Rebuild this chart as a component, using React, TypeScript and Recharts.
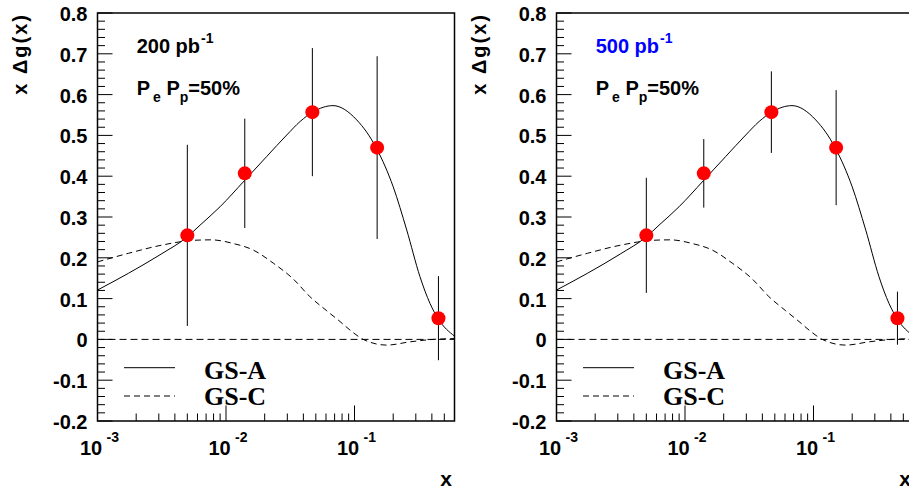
import React from 'react';
import { ComposedChart, Line, Scatter, ErrorBar, XAxis, YAxis, ReferenceLine, ReferenceArea } from 'recharts';

// GS-A (solid) and GS-C (dashed) gluon curves
const gsAx = [0.001, 0.00174, 0.00316, 0.00494, 0.00628, 0.00898, 0.0139, 0.0207, 0.0297, 0.0377, 0.0478, 0.068, 0.104, 0.149, 0.2, 0.255, 0.323, 0.387, 0.449, 0.6];
const gsAy = [0.121, 0.162, 0.21, 0.25, 0.28, 0.325, 0.389, 0.448, 0.501, 0.534, 0.558, 0.573, 0.538, 0.467, 0.374, 0.268, 0.154, 0.088, 0.05, 0.008];
const gsCx = [0.001, 0.00174, 0.00316, 0.0057, 0.0077, 0.0114, 0.0163, 0.0233, 0.0334, 0.0449, 0.0609, 0.077, 0.093, 0.117, 0.178, 0.27, 0.41, 0.6];
const gsCy = [0.19, 0.211, 0.231, 0.243, 0.244, 0.235, 0.219, 0.187, 0.148, 0.105, 0.07, 0.044, 0.022, 0.0, -0.014, -0.006, 0.0, 0.002];

// projected measurement points
const pointX = [0.005, 0.014, 0.047, 0.15, 0.45];
const pointY = [0.255, 0.407, 0.557, 0.47, 0.052];
const err200 = [0.222, 0.134, 0.157, 0.224, 0.103];
const err500 = [0.141, 0.084, 0.1, 0.141, 0.065];

// axis ticks
const xMajor = [0.001, 0.01, 0.1];
const xExp = ['-3', '-2', '-1'];
const xMinor = [0.002, 0.003, 0.004, 0.005, 0.006, 0.007, 0.008, 0.009, 0.02, 0.03, 0.04, 0.05, 0.06, 0.07, 0.08, 0.09, 0.2, 0.3, 0.4, 0.5];
const yMajor = [-0.2, -0.1, 0, 0.1, 0.2, 0.3, 0.4, 0.5, 0.6, 0.7, 0.8];
const yTicks = Array.from({ length: 51 }, (_, i) => Math.round((-0.2 + i * 0.02) * 100) / 100);

const SANS = '"Liberation Sans", Arial, Helvetica, sans-serif';
const SERIF = '"Liberation Serif", "Times New Roman", serif';

const fmtY = (v: number) => (Math.abs(v) < 1e-9 ? '0' : v.toFixed(1));

const YTick = (props: any) => {
  const { x, y, payload } = props;
  const v = payload.value;
  const major = yMajor.some((m) => Math.abs(m - v) < 1e-6);
  return (
    <g>
      <line x1={x} x2={x + (major ? 15 : 7.5)} y1={y} y2={y} stroke="#000" strokeWidth={1} />
      {major && (
        <text x={x - 10} y={y + 8} textAnchor="end" fontFamily={SANS} fontWeight="bold" fontSize={20} fill="#000">
          {fmtY(v)}
        </text>
      )}
    </g>
  );
};

const XTick = (props: any) => {
  const { x, y, payload } = props;
  const i = xMajor.indexOf(payload.value);
  const major = i >= 0;
  return (
    <g>
      <line x1={x} x2={x} y1={y} y2={y - (major ? 15.5 : 7.5)} stroke="#000" strokeWidth={1} />
      {major && (
        <g fontFamily={SANS} fontWeight="bold" fill="#000">
          <text x={x - 17.6} y={y + 34} fontSize={20}>10</text>
          <text x={x + 9} y={y + 21} fontSize={14}>{xExp[i]}</text>
        </g>
      )}
    </g>
  );
};

const Panel = ({ errors, lumi, lumiColor, left }: { errors: number[]; lumi: string; lumiColor: string; left: number }) => {
  const curveA = gsAx.map((x, i) => ({ x, y: gsAy[i] }));
  const curveC = gsCx.map((x, i) => ({ x, y: gsCy[i] }));
  const points = pointX.map((x, i) => ({ x, y: pointY[i], err: errors[i] }));

  return (
    <div style={{ position: 'absolute', left, top: 0, width: 460, height: 488 }}>
      <ComposedChart width={460} height={488} margin={{ top: 13, right: 5.5, bottom: 0, left: 0 }}>
        <XAxis
          type="number"
          dataKey="x"
          scale="log"
          domain={[0.001, 0.6]}
          allowDataOverflow
          ticks={[...xMajor, ...xMinor]}
          interval={0}
          tick={(p: any) => <XTick {...p} />}
          tickLine={false}
          axisLine={false}
          tickSize={0}
          tickMargin={0}
          height={67}
        />
        <YAxis
          type="number"
          dataKey="y"
          domain={[-0.2, 0.8]}
          allowDataOverflow
          ticks={yTicks}
          interval={0}
          tick={(p: any) => <YTick {...p} />}
          tickLine={false}
          axisLine={false}
          tickSize={0}
          tickMargin={0}
          width={97.5}
        />
        <ReferenceArea x1={0.001} x2={0.6} y1={-0.2} y2={0.8} fill="none" stroke="#000" strokeWidth={1.5} />
        <ReferenceLine y={0} stroke="#000" strokeWidth={1} strokeDasharray="7 4" />
        <Line data={curveC} dataKey="y" type="monotone" stroke="#000" strokeWidth={1} strokeDasharray="6 4" dot={false} isAnimationActive={false} />
        <Line data={curveA} dataKey="y" type="monotone" stroke="#000" strokeWidth={1} dot={false} isAnimationActive={false} />
        <Scatter
          data={points}
          dataKey="y"
          isAnimationActive={false}
          shape={(p: any) => <circle cx={p.cx} cy={p.cy} r={7} fill="#ff0000" />}
        >
          <ErrorBar dataKey="err" direction="y" width={0} stroke="#000" strokeWidth={1} isAnimationActive={false} />
        </Scatter>
      </ComposedChart>

      <svg width={460} height={488} style={{ position: 'absolute', left: 0, top: 0, pointerEvents: 'none' }}>
        <text transform="translate(27,13) rotate(-90)" textAnchor="end" fontFamily={SANS} fontWeight="bold" fontSize={20} letterSpacing={2} fill="#000">
          x Δg(x)
        </text>
        <text x={452} y={486} textAnchor="end" fontFamily={SANS} fontWeight="bold" fontSize={21} fill="#000">x</text>

        <g fontFamily={SANS} fontWeight="bold" fill={lumiColor}>
          <text x={136.7} y={53.3} fontSize={20}>
            {lumi} pb<tspan dy={-10} dx={1} fontSize={14}>-1</tspan>
          </text>
        </g>
        <text x={136.7} y={95} fontFamily={SANS} fontWeight="bold" fontSize={20} fill="#000">
          P<tspan dx={3} dy={6.5} fontSize={14}>e</tspan>
          <tspan dy={-6.5}> P</tspan>
          <tspan dy={6.5} fontSize={14}>p</tspan>
          <tspan dy={-6.5}>=50%</tspan>
        </text>

        <line x1={124} x2={175} y1={367.7} y2={367.7} stroke="#000" strokeWidth={1} />
        <line x1={124} x2={175} y1={396} y2={396} stroke="#000" strokeWidth={1} strokeDasharray="6 4" />
        <g fontFamily={SERIF} fontWeight="bold" fontSize={26} fill="#000">
          <text x={204} y={378.5}>GS-A</text>
          <text x={204} y={405}>GS-C</text>
        </g>
      </svg>
    </div>
  );
};

export default function App() {
  return (
    <div style={{ position: 'fixed', left: 0, top: 0, width: 909, height: 488, overflow: 'hidden', background: '#fff' }}>
      <Panel errors={err200} lumi="200" lumiColor="#000" left={0} />
      <Panel errors={err500} lumi="500" lumiColor="#0000ff" left={458.8} />
    </div>
  );
}
